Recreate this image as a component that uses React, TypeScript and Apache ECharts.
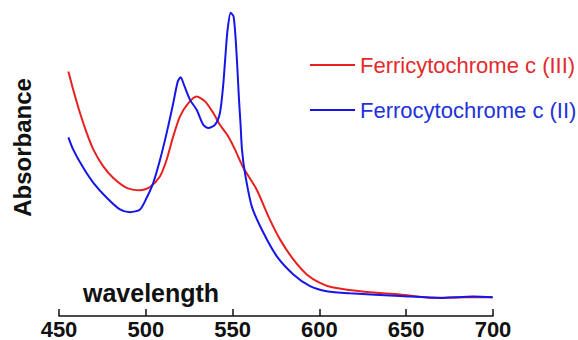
import React, { useEffect, useRef } from "react";
import * as echarts from "echarts";

const xTicks = [450, 500, 550, 600, 650, 700];

const seriesNames = ["Ferricytochrome c (III)", "Ferrocytochrome c (II)"];

const ferriWavelength = [
  455.4, 458.2, 462.1, 466.0, 469.8, 475.5, 481.3, 489.0, 496.7, 502.4, 508.2, 512.0,
  515.8, 519.7, 524.5, 529.3, 534.1, 538.9, 542.7, 547.5, 551.4, 556.2, 563.9, 570.6,
  577.3, 585.0, 592.7, 600.3, 608.0, 627.2, 646.4, 665.6, 684.8, 699.8,
];
const ferriAbsorbance = [
  0.817, 0.756, 0.678, 0.611, 0.556, 0.5, 0.461, 0.428, 0.42, 0.431, 0.467, 0.522,
  0.6, 0.667, 0.711, 0.733, 0.717, 0.678, 0.639, 0.6, 0.556, 0.495, 0.422, 0.333,
  0.256, 0.189, 0.139, 0.111, 0.095, 0.08, 0.072, 0.061, 0.063, 0.063,
];

const ferroWavelength = [
  455.4, 458.2, 464.0, 469.8, 477.5, 485.1, 490.9, 496.7, 500.5, 504.3, 508.2, 512.0,
  515.8, 518.4, 520.1, 522.0, 525.5, 529.3, 533.1, 536.0, 539.9, 542.7, 544.6, 545.9,
  547.1, 548.9, 550.5, 551.6, 552.7, 553.7, 554.6, 555.4, 557.1, 561.0, 566.8, 575.4,
  585.0, 594.6, 604.2, 617.6, 646.4, 669.5, 688.7, 699.8,
];
const ferroAbsorbance = [
  0.597, 0.556, 0.495, 0.445, 0.395, 0.356, 0.347, 0.356, 0.395, 0.445, 0.522, 0.611,
  0.711, 0.783, 0.798, 0.772, 0.722, 0.689, 0.639, 0.628, 0.639, 0.678, 0.772, 0.872,
  0.956, 1.013, 1.002, 0.939, 0.833, 0.722, 0.639, 0.556, 0.478, 0.367, 0.289, 0.2,
  0.139, 0.1, 0.083, 0.076, 0.067, 0.06, 0.065, 0.063,
];

const RED = "#e8201e";
const BLUE = "#1616e8";

export default function App() {
  const ref = useRef<HTMLDivElement>(null);
  useEffect(() => {
    if (!ref.current) return;
    const chart = echarts.init(ref.current, null, { renderer: "svg" });
    const ferri = ferriWavelength.map((x, i) => [x, ferriAbsorbance[i]]);
    const ferro = ferroWavelength.map((x, i) => [x, ferroAbsorbance[i]]);
    chart.setOption({
      animation: false,
      backgroundColor: "#ffffff",
      textStyle: { fontFamily: "Liberation Sans, Arial, sans-serif" },
      grid: { left: 59, right: 85, top: 10.7, bottom: 23.3, containLabel: false },
      legend: {
        orient: "vertical",
        left: 305,
        top: 49,
        itemWidth: 45,
        itemHeight: 2,
        itemGap: 23,
        icon: "rect",
        data: [
          { name: seriesNames[0], textStyle: { color: "#e42a2a" } },
          { name: seriesNames[1], textStyle: { color: "#2232d8" } },
        ],
        textStyle: { fontSize: 22, lineHeight: 22, fontFamily: "Liberation Sans, Arial, sans-serif" },
      },
      xAxis: {
        type: "value",
        min: 450,
        max: 700,
        interval: 50,
        axisLine: { show: true, onZero: false, lineStyle: { color: "#111", width: 1.5 } },
        axisTick: { show: true, inside: true, length: 7, lineStyle: { color: "#111", width: 1.5 } },
        axisLabel: {
          margin: 2,
          fontSize: 22,
          fontWeight: "bold",
          color: "#111",
          fontFamily: "Liberation Sans, Arial, sans-serif",
          customValues: xTicks,
        },
        splitLine: { show: false },
      },
      yAxis: {
        type: "value",
        min: 0,
        max: 1.02,
        axisLine: { show: false },
        axisTick: { show: false },
        axisLabel: { show: false },
        splitLine: { show: false },
      },
      graphic: [
        {
          type: "text",
          x: 22,
          y: 147.5,
          rotation: Math.PI / 2,
          style: {
            text: "Absorbance",
            fontSize: 24,
            fontWeight: "bold",
            fill: "#111",
            fontFamily: "Liberation Sans, Arial, sans-serif",
            textAlign: "center",
            textVerticalAlign: "middle",
          },
        },
        {
          type: "text",
          x: 83,
          y: 293,
          style: {
            text: "wavelength",
            fontSize: 25,
            fontWeight: "bold",
            fill: "#111",
            fontFamily: "Liberation Sans, Arial, sans-serif",
            textAlign: "left",
            textVerticalAlign: "middle",
          },
        },
      ],
      series: [
        {
          name: seriesNames[0],
          type: "line",
          data: ferri,
          showSymbol: false,
          smooth: 0.25,
          color: RED,
          lineStyle: { color: RED, width: 2 },
        },
        {
          name: seriesNames[1],
          type: "line",
          data: ferro,
          showSymbol: false,
          smooth: 0.25,
          color: BLUE,
          lineStyle: { color: BLUE, width: 2 },
        },
      ],
    });
    return () => chart.dispose();
  }, []);
  return (
    <div
      ref={ref}
      style={{ position: "fixed", left: 0, top: 0, width: 578, height: 340, background: "#fff" }}
    />
  );
}
